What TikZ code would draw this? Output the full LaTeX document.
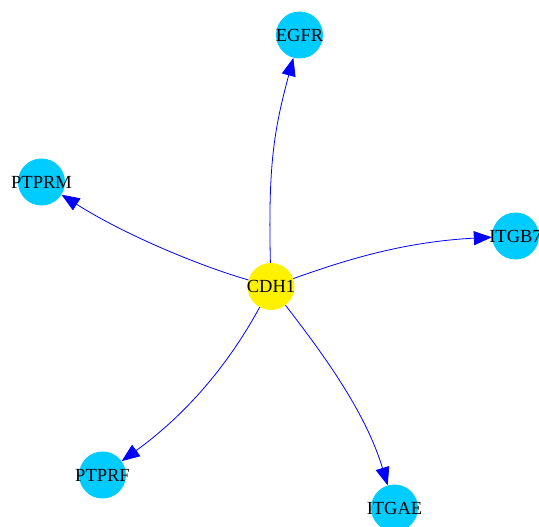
\documentclass[tikz,border=0pt]{standalone}
\usepackage{fontspec}
\setmainfont{Liberation Serif}
\usetikzlibrary{arrows.meta}
\definecolor{nodecyan}{RGB}{0,204,255}
\definecolor{edgeblue}{RGB}{0,0,255}
\begin{document}
\begin{tikzpicture}[x=1pt,y=-1pt,
  gene/.style={circle,fill=nodecyan,minimum size=47pt,inner sep=0pt},
  hub/.style={gene,fill=yellow},
  genetext/.style={inner sep=0pt,font=\fontsize{18.5}{18.5}\selectfont},
  link/.style={draw=edgeblue,line width=0.8pt,-{Triangle[length=18pt,width=14pt]}}]
\useasboundingbox (0,0) rectangle (539,527);
\clip (0,0) rectangle (539,527);
\node[hub]  (cdh1)  at (271,286.5) {};
\node[gene] (egfr)  at (299.5,35)  {};
\node[gene] (ptprm) at (41.5,182)  {};
\node[gene] (itgb7) at (515.5,236) {};
\node[gene] (ptprf) at (102.5,475) {};
\node[gene] (itgae) at (394.5,508) {};
\node[genetext] (tcdh1)  at (cdh1)  {CDH1};
\node[genetext] (tegfr)  at (egfr)  {EGFR};
\node[genetext] (tptprm) at (ptprm) {PTPRM};
\node[genetext] (titgb7) at (itgb7) {ITGB7};
\node[genetext] (tptprf) at (ptprf) {PTPRF};
\node[genetext] (titgae) at (itgae) {ITGAE};
\draw[link] (cdh1) .. controls (268,165) and (274,130) .. (egfr);
\draw[link] (cdh1) .. controls (200,266) and (125,235) .. (ptprm);
\draw[link] (cdh1) .. controls (340,262) and (400,242) .. (itgb7);
\draw[link] (cdh1) .. controls (232,358) and (192,410) .. (ptprf);
\draw[link] (cdh1) .. controls (320,350) and (365,410) .. (itgae);
\end{tikzpicture}
\end{document}
